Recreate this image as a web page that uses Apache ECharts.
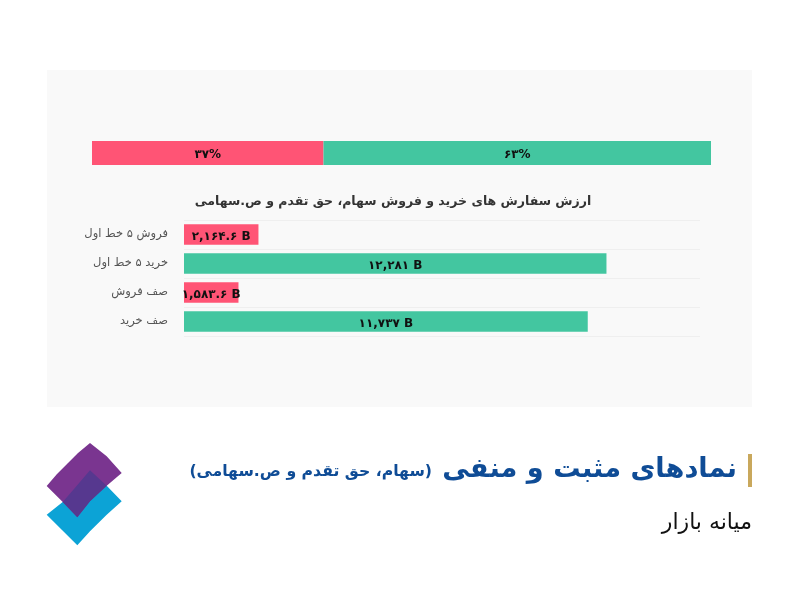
<!DOCTYPE html>
<html><head><meta charset="utf-8">
<style>html,body{margin:0;padding:0;background:#fff}#c{width:800px;height:602px}</style>
<script src="https://cdn.jsdelivr.net/npm/echarts@6/dist/echarts.min.js"></script>
</head><body><div id="c"></div>
<script>
const categories = ['فروش ۵ خط اول','خرید ۵ خط اول','صف فروش','صف خرید'];
const orderValues = [2164.6,12281,1583.6,11737];
const orderColors = ['#ff5475','#43c6a0','#ff5475','#43c6a0'];
const shareSell = [37.4];
const shareBuy = [62.6];
const chartTitle = 'ارزش سفارش های خرید و فروش سهام، حق تقدم و ص.سهامی';
const headMain = 'نمادهای مثبت و منفی';
const headSub = '(سهام، حق تقدم و ص.سهامی)';
const headMarket = 'میانه بازار';
const FONT = '"DejaVu Sans",sans-serif';
const fa = s => String(s).replace(/\d/g,d=>'۰۱۲۳۴۵۶۷۸۹'[d]);
const fmtVal = v => fa(v.toLocaleString('en-US',{maximumFractionDigits:1}))+' B';
const fmtPct = v => fa(Math.round(v))+'%';
const pctLabel = {show:true,position:'inside',color:'#111',fontWeight:'bold',fontSize:12,fontFamily:FONT,offset:[0,2],formatter:p=>fmtPct(p.value)};
const blue = [[46.7,514.7],[62.7,502],[90,470.3],[106.7,485.7],[121.7,501.3],[106.7,514.7],[90,531.3],[77.3,545.3],[62,530]];
const purple = [[46.7,486],[57,474],[68,463],[78,453],[90,443],[106.7,456.3],[121.7,473],[106.7,485.7],[90,501.3],[77.3,517.3],[62,501.3]];
const overlap = [[90,470.3],[106.7,485.7],[90,501.3],[77.3,517.3],[62.7,502],[74,489]];
const chart = echarts.init(document.getElementById('c'),null,{renderer:'canvas'});
chart.setOption({
  animation:false,
  backgroundColor:'#fff',
  title:{text:chartTitle,left:388,top:190,textAlign:'center',textStyle:{fontFamily:FONT,fontSize:12.5,fontWeight:'bold',color:'#333'}},
  grid:[
    {left:92,top:141,width:619,height:24},
    {left:184,top:220,width:516,height:116}
  ],
  xAxis:[
    {gridIndex:0,type:'value',min:0,max:100,show:false},
    {gridIndex:1,type:'value',min:0,max:15000,show:false}
  ],
  yAxis:[
    {gridIndex:0,type:'category',data:[''],show:false},
    {gridIndex:1,type:'category',data:categories,inverse:true,
     axisLine:{show:false},axisTick:{show:false},
     axisLabel:{color:'#555',fontSize:11.5,fontFamily:FONT,margin:16,padding:[0,0,9,0]},
     splitLine:{show:true,interval:0,lineStyle:{color:'#efefef',width:1}}}
  ],
  series:[
    {type:'bar',stack:'s',xAxisIndex:0,yAxisIndex:0,barWidth:'100%',data:shareSell,itemStyle:{color:'#ff5475'},label:pctLabel},
    {type:'bar',stack:'s',xAxisIndex:0,yAxisIndex:0,barWidth:'100%',data:shareBuy,itemStyle:{color:'#43c6a0'},label:pctLabel},
    {type:'bar',xAxisIndex:1,yAxisIndex:1,barWidth:20.5,
     data:orderValues.map((v,i)=>({value:v,itemStyle:{color:orderColors[i]}})),
     label:{show:true,position:'inside',color:'#111',fontWeight:'bold',fontSize:12,fontFamily:FONT,offset:[0,2],formatter:p=>fmtVal(p.value)}}
  ],
  graphic:[
    {type:'rect',z:-10,silent:true,shape:{x:47,y:70,width:705,height:337},style:{fill:'#f9f9f9'}},
    {type:'rect',shape:{x:748,y:454,width:4,height:33},style:{fill:'#c9a85c'}},
    {type:'text',style:{text:headMain,x:737,y:470,align:'right',verticalAlign:'middle',font:'bold 27.2px '+FONT,fill:'#0f4c96'}},
    {type:'text',style:{text:headSub,x:432,y:472,align:'right',verticalAlign:'middle',font:'bold 15.7px '+FONT,fill:'#0f4c96'}},
    {type:'text',style:{text:headMarket,x:752,y:523,align:'right',verticalAlign:'middle',font:'22px '+FONT,fill:'#111'}},
    {type:'polygon',shape:{points:blue},style:{fill:'#0ca3d6'}},
    {type:'polygon',shape:{points:purple},style:{fill:'#7a3590'}},
    {type:'polygon',shape:{points:overlap},style:{fill:'#56388f'}}
  ]
});
</script></body></html>
